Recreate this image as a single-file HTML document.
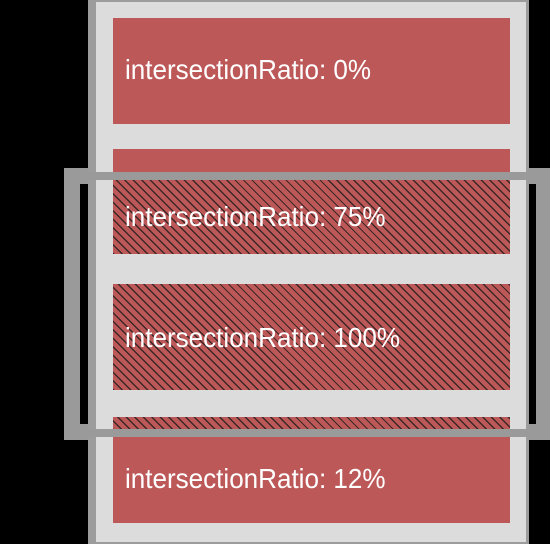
<!DOCTYPE html>
<html><head><meta charset="utf-8"><style>
html,body{margin:0;padding:0;background:#000;}
#root{position:relative;width:550px;height:544px;overflow:hidden;background:#000;font-family:"Liberation Sans",sans-serif;}
.abs{position:absolute;}
.card{position:absolute;left:113px;width:397px;background:#bd5858;}
.hatch{position:absolute;left:0;width:100%;background:repeating-linear-gradient(45deg,#3d2626 0px,#3d2626 1.3px,#bd5858 1.3px,#bd5858 6px);}
.lbl{position:absolute;left:12px;color:#fff;font-size:28px;line-height:28px;white-space:nowrap;transform:scaleX(0.93);transform-origin:0 0;}
</style></head><body>
<div id="root">
  <div class="abs" style="left:64px;top:168px;width:486px;height:272px;background:#9a9a9a;"></div>
  <div class="abs" style="left:80px;top:184px;width:456px;height:240px;background:#000;"></div>
  <div class="abs" style="left:88px;top:0;width:441px;height:544px;background:#9c9c9c;">
    <div class="abs" style="left:8px;top:2px;width:430px;height:540px;background:#dcdcdc;"></div>
  </div>

  <div class="card" style="top:18px;height:106px;">
    <div class="lbl" style="top:38px;">intersectionRatio: 0%</div>
  </div>
  <div class="card" style="top:149px;height:105px;">
    <div class="hatch" style="top:30px;height:75px;"></div>
    <div class="lbl" style="top:54px;">intersectionRatio: 75%</div>
  </div>
  <div class="card" style="top:284px;height:106px;">
    <div class="hatch" style="top:0;height:106px;"></div>
    <div class="lbl" style="top:40px;">intersectionRatio: 100%</div>
  </div>
  <div class="card" style="top:417px;height:106px;">
    <div class="hatch" style="top:0;height:13px;"></div>
    <div class="lbl" style="top:48px;">intersectionRatio: 12%</div>
  </div>

  <div class="abs" style="left:88px;top:172px;width:448px;height:8px;background:#9a9a9a;"></div>
  <div class="abs" style="left:88px;top:429px;width:448px;height:8px;background:#9a9a9a;"></div>
</div>
</body></html>
